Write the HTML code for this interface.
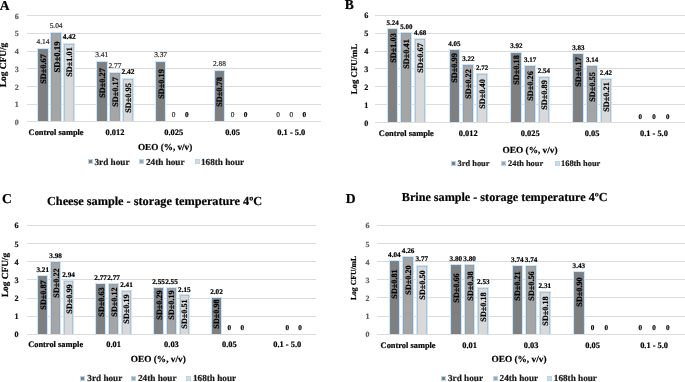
<!DOCTYPE html>
<html><head><meta charset="utf-8"><style>
html,body{margin:0;padding:0;background:#fff;}
body{width:685px;height:382px;position:relative;overflow:hidden;font-family:"Liberation Serif", serif;}
#w{position:absolute;left:0;top:0;width:685px;height:382px;}
.t{position:absolute;white-space:nowrap;line-height:1;filter:grayscale(1);text-rendering:geometricPrecision;-webkit-text-stroke:0.2px currentColor;}
.r{position:absolute;}
</style></head><body><div id="w">
<div class="r" style="left:26.70px;top:121.40px;width:294.00px;height:1.00px;background:#dcdcdc"></div>
<div class="r" style="left:26.70px;top:103.70px;width:294.00px;height:1.00px;background:#dcdcdc"></div>
<div class="r" style="left:26.70px;top:86.00px;width:294.00px;height:1.00px;background:#dcdcdc"></div>
<div class="r" style="left:26.70px;top:68.30px;width:294.00px;height:1.00px;background:#dcdcdc"></div>
<div class="r" style="left:26.70px;top:50.60px;width:294.00px;height:1.00px;background:#dcdcdc"></div>
<div class="r" style="left:26.70px;top:32.90px;width:294.00px;height:1.00px;background:#dcdcdc"></div>
<div class="r" style="left:26.70px;top:15.20px;width:294.00px;height:1.00px;background:#dcdcdc"></div>
<div class="t" style="left:16.80px;top:122.90px;font-size:8.0px;font-weight:bold;color:#606060;transform:translate(-50%,-50%);">0</div>
<div class="t" style="left:16.80px;top:105.20px;font-size:8.0px;font-weight:bold;color:#606060;transform:translate(-50%,-50%);">1</div>
<div class="t" style="left:16.80px;top:87.50px;font-size:8.0px;font-weight:bold;color:#606060;transform:translate(-50%,-50%);">2</div>
<div class="t" style="left:16.80px;top:69.80px;font-size:8.0px;font-weight:bold;color:#606060;transform:translate(-50%,-50%);">3</div>
<div class="t" style="left:16.80px;top:52.10px;font-size:8.0px;font-weight:bold;color:#606060;transform:translate(-50%,-50%);">4</div>
<div class="t" style="left:16.80px;top:34.40px;font-size:8.0px;font-weight:bold;color:#606060;transform:translate(-50%,-50%);">5</div>
<div class="t" style="left:16.80px;top:16.70px;font-size:8.0px;font-weight:bold;color:#606060;transform:translate(-50%,-50%);">6</div>
<div class="r" style="left:37.10px;top:47.62px;width:9.80px;height:73.28px;background:#7f7f7f;border:1px solid #cfe5f3;border-bottom:0;box-shadow:inset 1px 1px 0 rgba(91,155,213,0.35), inset -1px 0 0 rgba(91,155,213,0.35)"></div>
<div class="t" style="left:43.00px;top:41.72px;font-size:7.4px;font-weight:normal;color:#2a2a2a;transform:translate(-50%,-50%);">4.14</div>
<div class="t" style="left:44.00px;top:68.50px;font-size:8.25px;font-weight:bold;color:#000;transform:translate(-50%,-50%) rotate(-90deg);">SD&plusmn;0.67</div>
<div class="r" style="left:50.20px;top:31.69px;width:9.80px;height:89.21px;background:#a5a5a5;border:1px solid #cfe5f3;border-bottom:0;box-shadow:inset 1px 1px 0 rgba(91,155,213,0.35), inset -1px 0 0 rgba(91,155,213,0.35)"></div>
<div class="t" style="left:56.10px;top:25.79px;font-size:7.4px;font-weight:normal;color:#2a2a2a;transform:translate(-50%,-50%);">5.04</div>
<div class="t" style="left:57.10px;top:56.80px;font-size:8.7px;font-weight:bold;color:#000;transform:translate(-50%,-50%) rotate(-90deg);">SD&plusmn;0.19</div>
<div class="r" style="left:63.30px;top:42.67px;width:9.80px;height:78.23px;background:#d9d9d9;border:1px solid #cfe5f3;border-bottom:0;box-shadow:inset 1px 1px 0 rgba(91,155,213,0.35), inset -1px 0 0 rgba(91,155,213,0.35)"></div>
<div class="t" style="left:69.20px;top:37.07px;font-size:7.4px;font-weight:bold;color:#000;transform:translate(-50%,-50%);">4.42</div>
<div class="t" style="left:70.20px;top:62.45px;font-size:8.25px;font-weight:bold;color:#000;transform:translate(-50%,-50%) rotate(-90deg);">SD&plusmn;1.01</div>
<div class="t" style="left:56.10px;top:132.50px;font-size:8.4px;font-weight:bold;color:#000;transform:translate(-50%,-50%);">Control sample</div>
<div class="r" style="left:95.90px;top:60.54px;width:9.80px;height:60.36px;background:#7f7f7f;border:1px solid #cfe5f3;border-bottom:0;box-shadow:inset 1px 1px 0 rgba(91,155,213,0.35), inset -1px 0 0 rgba(91,155,213,0.35)"></div>
<div class="t" style="left:101.80px;top:54.64px;font-size:7.4px;font-weight:normal;color:#2a2a2a;transform:translate(-50%,-50%);">3.41</div>
<div class="t" style="left:102.80px;top:83.45px;font-size:8.25px;font-weight:bold;color:#000;transform:translate(-50%,-50%) rotate(-90deg);">SD&plusmn;0.27</div>
<div class="r" style="left:109.00px;top:71.87px;width:9.80px;height:49.03px;background:#a5a5a5;border:1px solid #cfe5f3;border-bottom:0;box-shadow:inset 1px 1px 0 rgba(91,155,213,0.35), inset -1px 0 0 rgba(91,155,213,0.35)"></div>
<div class="t" style="left:114.90px;top:65.97px;font-size:7.4px;font-weight:normal;color:#2a2a2a;transform:translate(-50%,-50%);">2.77</div>
<div class="t" style="left:115.90px;top:91.60px;font-size:8.25px;font-weight:bold;color:#000;transform:translate(-50%,-50%) rotate(-90deg);">SD&plusmn;0.17</div>
<div class="r" style="left:122.10px;top:78.07px;width:9.80px;height:42.83px;background:#d9d9d9;border:1px solid #cfe5f3;border-bottom:0;box-shadow:inset 1px 1px 0 rgba(91,155,213,0.35), inset -1px 0 0 rgba(91,155,213,0.35)"></div>
<div class="t" style="left:128.00px;top:72.47px;font-size:7.4px;font-weight:bold;color:#000;transform:translate(-50%,-50%);">2.42</div>
<div class="t" style="left:129.00px;top:97.70px;font-size:8.25px;font-weight:bold;color:#000;transform:translate(-50%,-50%) rotate(-90deg);">SD&plusmn;0.95</div>
<div class="t" style="left:114.90px;top:132.50px;font-size:8.4px;font-weight:bold;color:#000;transform:translate(-50%,-50%);">0.012</div>
<div class="r" style="left:154.70px;top:61.25px;width:9.80px;height:59.65px;background:#7f7f7f;border:1px solid #cfe5f3;border-bottom:0;box-shadow:inset 1px 1px 0 rgba(91,155,213,0.35), inset -1px 0 0 rgba(91,155,213,0.35)"></div>
<div class="t" style="left:160.60px;top:55.35px;font-size:7.4px;font-weight:normal;color:#2a2a2a;transform:translate(-50%,-50%);">3.37</div>
<div class="t" style="left:161.60px;top:83.95px;font-size:8.25px;font-weight:bold;color:#000;transform:translate(-50%,-50%) rotate(-90deg);">SD&plusmn;0.19</div>
<div class="t" style="left:173.70px;top:115.10px;font-size:7.4px;font-weight:normal;color:#2a2a2a;transform:translate(-50%,-50%);">0</div>
<div class="t" style="left:186.80px;top:115.10px;font-size:7.4px;font-weight:bold;color:#000;transform:translate(-50%,-50%);">0</div>
<div class="t" style="left:173.70px;top:132.50px;font-size:8.4px;font-weight:bold;color:#000;transform:translate(-50%,-50%);">0.025</div>
<div class="r" style="left:213.50px;top:69.92px;width:9.80px;height:50.98px;background:#7f7f7f;border:1px solid #cfe5f3;border-bottom:0;box-shadow:inset 1px 1px 0 rgba(91,155,213,0.35), inset -1px 0 0 rgba(91,155,213,0.35)"></div>
<div class="t" style="left:219.40px;top:64.02px;font-size:7.4px;font-weight:normal;color:#2a2a2a;transform:translate(-50%,-50%);">2.88</div>
<div class="t" style="left:220.40px;top:91.55px;font-size:8.25px;font-weight:bold;color:#000;transform:translate(-50%,-50%) rotate(-90deg);">SD&plusmn;0.78</div>
<div class="t" style="left:232.50px;top:115.10px;font-size:7.4px;font-weight:normal;color:#2a2a2a;transform:translate(-50%,-50%);">0</div>
<div class="t" style="left:245.60px;top:115.10px;font-size:7.4px;font-weight:bold;color:#000;transform:translate(-50%,-50%);">0</div>
<div class="t" style="left:232.50px;top:132.50px;font-size:8.4px;font-weight:bold;color:#000;transform:translate(-50%,-50%);">0.05</div>
<div class="t" style="left:278.20px;top:115.10px;font-size:7.4px;font-weight:normal;color:#2a2a2a;transform:translate(-50%,-50%);">0</div>
<div class="t" style="left:291.30px;top:115.10px;font-size:7.4px;font-weight:normal;color:#2a2a2a;transform:translate(-50%,-50%);">0</div>
<div class="t" style="left:304.40px;top:115.10px;font-size:7.4px;font-weight:bold;color:#000;transform:translate(-50%,-50%);">0</div>
<div class="t" style="left:291.30px;top:132.50px;font-size:8.4px;font-weight:bold;color:#000;transform:translate(-50%,-50%);">0.1 - 5.0</div>
<div class="r" style="left:26.70px;top:121.40px;width:294.00px;height:1.00px;background:#dcdcdc"></div>
<div class="t" style="left:5.30px;top:64.50px;font-size:9.4px;font-weight:bold;color:#000;transform:translate(-50%,-50%) rotate(-90deg);">Log CFU/g</div>
<div class="t" style="left:165.10px;top:147.80px;font-size:9.2px;font-weight:bold;color:#000;transform:translate(-50%,-50%);">OEO (%, v/v)</div>
<div class="r" style="left:87.80px;top:159.05px;width:4.90px;height:4.90px;background:#7f7f7f;border:1px solid #b3d6ee;box-sizing:border-box"></div>
<div class="t" style="left:94.50px;top:162.50px;font-size:9.2px;font-weight:bold;color:#1a1a1a;transform:translate(0,-50%);">3rd hour</div>
<div class="r" style="left:139.30px;top:159.05px;width:4.90px;height:4.90px;background:#a5a5a5;border:1px solid #b3d6ee;box-sizing:border-box"></div>
<div class="t" style="left:146.00px;top:162.50px;font-size:9.2px;font-weight:bold;color:#1a1a1a;transform:translate(0,-50%);">24th hour</div>
<div class="r" style="left:194.80px;top:159.05px;width:4.90px;height:4.90px;background:#d9d9d9;border:1px solid #b3d6ee;box-sizing:border-box"></div>
<div class="t" style="left:201.00px;top:162.50px;font-size:9.2px;font-weight:bold;color:#1a1a1a;transform:translate(0,-50%);">168th hour</div>
<div class="r" style="left:375.40px;top:122.10px;width:309.60px;height:1.00px;background:#dcdcdc"></div>
<div class="r" style="left:375.40px;top:104.23px;width:309.60px;height:1.00px;background:#dcdcdc"></div>
<div class="r" style="left:375.40px;top:86.36px;width:309.60px;height:1.00px;background:#dcdcdc"></div>
<div class="r" style="left:375.40px;top:68.49px;width:309.60px;height:1.00px;background:#dcdcdc"></div>
<div class="r" style="left:375.40px;top:50.62px;width:309.60px;height:1.00px;background:#dcdcdc"></div>
<div class="r" style="left:375.40px;top:32.75px;width:309.60px;height:1.00px;background:#dcdcdc"></div>
<div class="r" style="left:375.40px;top:14.88px;width:309.60px;height:1.00px;background:#dcdcdc"></div>
<div class="t" style="left:366.20px;top:123.60px;font-size:8.2px;font-weight:bold;color:#111;transform:translate(-50%,-50%);">0</div>
<div class="t" style="left:366.20px;top:105.73px;font-size:8.2px;font-weight:bold;color:#111;transform:translate(-50%,-50%);">1</div>
<div class="t" style="left:366.20px;top:87.86px;font-size:8.2px;font-weight:bold;color:#111;transform:translate(-50%,-50%);">2</div>
<div class="t" style="left:366.20px;top:69.99px;font-size:8.2px;font-weight:bold;color:#111;transform:translate(-50%,-50%);">3</div>
<div class="t" style="left:366.20px;top:52.12px;font-size:8.2px;font-weight:bold;color:#111;transform:translate(-50%,-50%);">4</div>
<div class="t" style="left:366.20px;top:34.25px;font-size:8.2px;font-weight:bold;color:#111;transform:translate(-50%,-50%);">5</div>
<div class="t" style="left:366.20px;top:16.38px;font-size:8.2px;font-weight:bold;color:#111;transform:translate(-50%,-50%);">6</div>
<div class="r" style="left:386.65px;top:27.96px;width:9.80px;height:93.64px;background:#7f7f7f;border:1px solid #cfe5f3;border-bottom:0;box-shadow:inset 1px 1px 0 rgba(91,155,213,0.35), inset -1px 0 0 rgba(91,155,213,0.35)"></div>
<div class="t" style="left:392.55px;top:22.66px;font-size:7.0px;font-weight:bold;color:#000;transform:translate(-50%,-50%);">5.24</div>
<div class="t" style="left:393.55px;top:48.15px;font-size:8.25px;font-weight:bold;color:#000;transform:translate(-50%,-50%) rotate(-90deg);">SD&plusmn;1.03</div>
<div class="r" style="left:400.45px;top:32.25px;width:9.80px;height:89.35px;background:#a5a5a5;border:1px solid #cfe5f3;border-bottom:0;box-shadow:inset 1px 1px 0 rgba(91,155,213,0.35), inset -1px 0 0 rgba(91,155,213,0.35)"></div>
<div class="t" style="left:406.35px;top:26.95px;font-size:7.0px;font-weight:bold;color:#000;transform:translate(-50%,-50%);">5.00</div>
<div class="t" style="left:407.35px;top:54.15px;font-size:8.25px;font-weight:bold;color:#000;transform:translate(-50%,-50%) rotate(-90deg);">SD&plusmn;0.41</div>
<div class="r" style="left:414.25px;top:37.97px;width:9.80px;height:83.63px;background:#d9d9d9;border:1px solid #cfe5f3;border-bottom:0;box-shadow:inset 1px 1px 0 rgba(91,155,213,0.35), inset -1px 0 0 rgba(91,155,213,0.35)"></div>
<div class="t" style="left:420.15px;top:32.67px;font-size:7.0px;font-weight:bold;color:#000;transform:translate(-50%,-50%);">4.68</div>
<div class="t" style="left:421.15px;top:58.45px;font-size:8.25px;font-weight:bold;color:#000;transform:translate(-50%,-50%) rotate(-90deg);">SD&plusmn;0.67</div>
<div class="t" style="left:406.35px;top:134.00px;font-size:8.4px;font-weight:bold;color:#000;transform:translate(-50%,-50%);">Control sample</div>
<div class="r" style="left:448.55px;top:49.23px;width:9.80px;height:72.37px;background:#7f7f7f;border:1px solid #cfe5f3;border-bottom:0;box-shadow:inset 1px 1px 0 rgba(91,155,213,0.35), inset -1px 0 0 rgba(91,155,213,0.35)"></div>
<div class="t" style="left:454.45px;top:43.93px;font-size:7.0px;font-weight:bold;color:#000;transform:translate(-50%,-50%);">4.05</div>
<div class="t" style="left:455.45px;top:67.90px;font-size:8.25px;font-weight:bold;color:#000;transform:translate(-50%,-50%) rotate(-90deg);">SD&plusmn;0.99</div>
<div class="r" style="left:462.35px;top:64.06px;width:9.80px;height:57.54px;background:#a5a5a5;border:1px solid #cfe5f3;border-bottom:0;box-shadow:inset 1px 1px 0 rgba(91,155,213,0.35), inset -1px 0 0 rgba(91,155,213,0.35)"></div>
<div class="t" style="left:468.25px;top:58.76px;font-size:7.0px;font-weight:bold;color:#000;transform:translate(-50%,-50%);">3.22</div>
<div class="t" style="left:469.25px;top:83.85px;font-size:8.25px;font-weight:bold;color:#000;transform:translate(-50%,-50%) rotate(-90deg);">SD&plusmn;0.22</div>
<div class="r" style="left:476.15px;top:72.99px;width:9.80px;height:48.61px;background:#d9d9d9;border:1px solid #cfe5f3;border-bottom:0;box-shadow:inset 1px 1px 0 rgba(91,155,213,0.35), inset -1px 0 0 rgba(91,155,213,0.35)"></div>
<div class="t" style="left:482.05px;top:67.69px;font-size:7.0px;font-weight:bold;color:#000;transform:translate(-50%,-50%);">2.72</div>
<div class="t" style="left:483.05px;top:93.50px;font-size:8.25px;font-weight:bold;color:#000;transform:translate(-50%,-50%) rotate(-90deg);">SD&plusmn;0.40</div>
<div class="t" style="left:468.25px;top:134.00px;font-size:8.4px;font-weight:bold;color:#000;transform:translate(-50%,-50%);">0.012</div>
<div class="r" style="left:510.45px;top:51.55px;width:9.80px;height:70.05px;background:#7f7f7f;border:1px solid #cfe5f3;border-bottom:0;box-shadow:inset 1px 1px 0 rgba(91,155,213,0.35), inset -1px 0 0 rgba(91,155,213,0.35)"></div>
<div class="t" style="left:516.35px;top:46.25px;font-size:7.0px;font-weight:bold;color:#000;transform:translate(-50%,-50%);">3.92</div>
<div class="t" style="left:517.35px;top:70.10px;font-size:8.25px;font-weight:bold;color:#000;transform:translate(-50%,-50%) rotate(-90deg);">SD&plusmn;0.18</div>
<div class="r" style="left:524.25px;top:64.95px;width:9.80px;height:56.65px;background:#a5a5a5;border:1px solid #cfe5f3;border-bottom:0;box-shadow:inset 1px 1px 0 rgba(91,155,213,0.35), inset -1px 0 0 rgba(91,155,213,0.35)"></div>
<div class="t" style="left:530.15px;top:59.65px;font-size:7.0px;font-weight:bold;color:#000;transform:translate(-50%,-50%);">3.17</div>
<div class="t" style="left:531.15px;top:86.35px;font-size:8.25px;font-weight:bold;color:#000;transform:translate(-50%,-50%) rotate(-90deg);">SD&plusmn;0.26</div>
<div class="r" style="left:538.05px;top:76.21px;width:9.80px;height:45.39px;background:#d9d9d9;border:1px solid #cfe5f3;border-bottom:0;box-shadow:inset 1px 1px 0 rgba(91,155,213,0.35), inset -1px 0 0 rgba(91,155,213,0.35)"></div>
<div class="t" style="left:543.95px;top:70.91px;font-size:7.0px;font-weight:bold;color:#000;transform:translate(-50%,-50%);">2.54</div>
<div class="t" style="left:544.95px;top:94.60px;font-size:8.25px;font-weight:bold;color:#000;transform:translate(-50%,-50%) rotate(-90deg);">SD&plusmn;0.89</div>
<div class="t" style="left:530.15px;top:134.00px;font-size:8.4px;font-weight:bold;color:#000;transform:translate(-50%,-50%);">0.025</div>
<div class="r" style="left:572.35px;top:53.16px;width:9.80px;height:68.44px;background:#7f7f7f;border:1px solid #cfe5f3;border-bottom:0;box-shadow:inset 1px 1px 0 rgba(91,155,213,0.35), inset -1px 0 0 rgba(91,155,213,0.35)"></div>
<div class="t" style="left:578.25px;top:47.86px;font-size:7.0px;font-weight:bold;color:#000;transform:translate(-50%,-50%);">3.83</div>
<div class="t" style="left:579.25px;top:72.45px;font-size:8.25px;font-weight:bold;color:#000;transform:translate(-50%,-50%) rotate(-90deg);">SD&plusmn;0.17</div>
<div class="r" style="left:586.15px;top:65.49px;width:9.80px;height:56.11px;background:#a5a5a5;border:1px solid #cfe5f3;border-bottom:0;box-shadow:inset 1px 1px 0 rgba(91,155,213,0.35), inset -1px 0 0 rgba(91,155,213,0.35)"></div>
<div class="t" style="left:592.05px;top:60.19px;font-size:7.0px;font-weight:bold;color:#000;transform:translate(-50%,-50%);">3.14</div>
<div class="t" style="left:593.05px;top:86.65px;font-size:8.25px;font-weight:bold;color:#000;transform:translate(-50%,-50%) rotate(-90deg);">SD&plusmn;0.55</div>
<div class="r" style="left:599.95px;top:78.35px;width:9.80px;height:43.25px;background:#d9d9d9;border:1px solid #cfe5f3;border-bottom:0;box-shadow:inset 1px 1px 0 rgba(91,155,213,0.35), inset -1px 0 0 rgba(91,155,213,0.35)"></div>
<div class="t" style="left:605.85px;top:73.05px;font-size:7.0px;font-weight:bold;color:#000;transform:translate(-50%,-50%);">2.42</div>
<div class="t" style="left:606.85px;top:96.75px;font-size:8.25px;font-weight:bold;color:#000;transform:translate(-50%,-50%) rotate(-90deg);">SD&plusmn;0.21</div>
<div class="t" style="left:592.05px;top:134.00px;font-size:8.4px;font-weight:bold;color:#000;transform:translate(-50%,-50%);">0.05</div>
<div class="t" style="left:640.15px;top:116.60px;font-size:7.0px;font-weight:bold;color:#000;transform:translate(-50%,-50%);">0</div>
<div class="t" style="left:653.95px;top:116.60px;font-size:7.0px;font-weight:bold;color:#000;transform:translate(-50%,-50%);">0</div>
<div class="t" style="left:667.75px;top:116.60px;font-size:7.0px;font-weight:bold;color:#000;transform:translate(-50%,-50%);">0</div>
<div class="t" style="left:653.95px;top:134.00px;font-size:8.4px;font-weight:bold;color:#000;transform:translate(-50%,-50%);">0.1 - 5.0</div>
<div class="r" style="left:375.40px;top:122.10px;width:309.60px;height:1.00px;background:#dcdcdc"></div>
<div class="t" style="left:353.50px;top:68.80px;font-size:8.8px;font-weight:bold;color:#000;transform:translate(-50%,-50%) rotate(-90deg);">Log CFU/mL</div>
<div class="t" style="left:530.10px;top:151.60px;font-size:9.3px;font-weight:bold;color:#000;transform:translate(-50%,-50%);">OEO (%, v/v)</div>
<div class="r" style="left:451.20px;top:161.00px;width:4.80px;height:4.80px;background:#7f7f7f;border:1px solid #b3d6ee;box-sizing:border-box"></div>
<div class="t" style="left:457.60px;top:164.40px;font-size:8.4px;font-weight:bold;color:#1a1a1a;transform:translate(0,-50%);">3rd hour</div>
<div class="r" style="left:501.20px;top:161.00px;width:4.80px;height:4.80px;background:#a5a5a5;border:1px solid #b3d6ee;box-sizing:border-box"></div>
<div class="t" style="left:508.00px;top:164.40px;font-size:8.4px;font-weight:bold;color:#1a1a1a;transform:translate(0,-50%);">24th hour</div>
<div class="r" style="left:555.00px;top:161.00px;width:4.80px;height:4.80px;background:#d9d9d9;border:1px solid #b3d6ee;box-sizing:border-box"></div>
<div class="t" style="left:561.00px;top:164.40px;font-size:8.4px;font-weight:bold;color:#1a1a1a;transform:translate(0,-50%);">168th hour</div>
<div class="r" style="left:26.70px;top:333.85px;width:289.50px;height:1.00px;background:#dcdcdc"></div>
<div class="r" style="left:26.70px;top:315.69px;width:289.50px;height:1.00px;background:#dcdcdc"></div>
<div class="r" style="left:26.70px;top:297.53px;width:289.50px;height:1.00px;background:#dcdcdc"></div>
<div class="r" style="left:26.70px;top:279.37px;width:289.50px;height:1.00px;background:#dcdcdc"></div>
<div class="r" style="left:26.70px;top:261.21px;width:289.50px;height:1.00px;background:#dcdcdc"></div>
<div class="r" style="left:26.70px;top:243.05px;width:289.50px;height:1.00px;background:#dcdcdc"></div>
<div class="r" style="left:26.70px;top:224.89px;width:289.50px;height:1.00px;background:#dcdcdc"></div>
<div class="t" style="left:16.60px;top:335.35px;font-size:8.2px;font-weight:bold;color:#111;transform:translate(-50%,-50%);">0</div>
<div class="t" style="left:16.60px;top:317.19px;font-size:8.2px;font-weight:bold;color:#111;transform:translate(-50%,-50%);">1</div>
<div class="t" style="left:16.60px;top:299.03px;font-size:8.2px;font-weight:bold;color:#111;transform:translate(-50%,-50%);">2</div>
<div class="t" style="left:16.60px;top:280.87px;font-size:8.2px;font-weight:bold;color:#111;transform:translate(-50%,-50%);">3</div>
<div class="t" style="left:16.60px;top:262.71px;font-size:8.2px;font-weight:bold;color:#111;transform:translate(-50%,-50%);">4</div>
<div class="t" style="left:16.60px;top:244.55px;font-size:8.2px;font-weight:bold;color:#111;transform:translate(-50%,-50%);">5</div>
<div class="t" style="left:16.60px;top:226.39px;font-size:8.2px;font-weight:bold;color:#111;transform:translate(-50%,-50%);">6</div>
<div class="r" style="left:37.10px;top:275.06px;width:9.30px;height:58.29px;background:#7f7f7f;border:1px solid #cfe5f3;border-bottom:0;box-shadow:inset 1px 1px 0 rgba(91,155,213,0.35), inset -1px 0 0 rgba(91,155,213,0.35)"></div>
<div class="t" style="left:42.75px;top:271.26px;font-size:7.2px;font-weight:bold;color:#000;transform:translate(-50%,-50%);">3.21</div>
<div class="t" style="left:43.75px;top:295.35px;font-size:8.2px;font-weight:bold;color:#000;transform:translate(-50%,-50%) rotate(-90deg);">SD&plusmn;0.87</div>
<div class="r" style="left:50.00px;top:261.07px;width:9.30px;height:72.28px;background:#a5a5a5;border:1px solid #cfe5f3;border-bottom:0;box-shadow:inset 1px 1px 0 rgba(91,155,213,0.35), inset -1px 0 0 rgba(91,155,213,0.35)"></div>
<div class="t" style="left:55.65px;top:257.27px;font-size:7.2px;font-weight:bold;color:#000;transform:translate(-50%,-50%);">3.98</div>
<div class="t" style="left:56.65px;top:282.50px;font-size:8.2px;font-weight:bold;color:#000;transform:translate(-50%,-50%) rotate(-90deg);">SD&plusmn;0.22</div>
<div class="r" style="left:62.90px;top:279.96px;width:9.30px;height:53.39px;background:#d9d9d9;border:1px solid #cfe5f3;border-bottom:0;box-shadow:inset 1px 1px 0 rgba(91,155,213,0.35), inset -1px 0 0 rgba(91,155,213,0.35)"></div>
<div class="t" style="left:68.55px;top:276.16px;font-size:7.2px;font-weight:bold;color:#000;transform:translate(-50%,-50%);">2.94</div>
<div class="t" style="left:69.55px;top:298.75px;font-size:8.2px;font-weight:bold;color:#000;transform:translate(-50%,-50%) rotate(-90deg);">SD&plusmn;0.99</div>
<div class="t" style="left:55.65px;top:345.45px;font-size:8.4px;font-weight:bold;color:#000;transform:translate(-50%,-50%);">Control sample</div>
<div class="r" style="left:95.00px;top:283.05px;width:9.30px;height:50.30px;background:#7f7f7f;border:1px solid #cfe5f3;border-bottom:0;box-shadow:inset 1px 1px 0 rgba(91,155,213,0.35), inset -1px 0 0 rgba(91,155,213,0.35)"></div>
<div class="t" style="left:100.65px;top:279.25px;font-size:7.2px;font-weight:bold;color:#000;transform:translate(-50%,-50%);">2.77</div>
<div class="t" style="left:101.65px;top:301.80px;font-size:8.2px;font-weight:bold;color:#000;transform:translate(-50%,-50%) rotate(-90deg);">SD&plusmn;0.63</div>
<div class="r" style="left:107.90px;top:283.05px;width:9.30px;height:50.30px;background:#a5a5a5;border:1px solid #cfe5f3;border-bottom:0;box-shadow:inset 1px 1px 0 rgba(91,155,213,0.35), inset -1px 0 0 rgba(91,155,213,0.35)"></div>
<div class="t" style="left:113.55px;top:279.25px;font-size:7.2px;font-weight:bold;color:#000;transform:translate(-50%,-50%);">2.77</div>
<div class="t" style="left:114.55px;top:301.50px;font-size:8.2px;font-weight:bold;color:#000;transform:translate(-50%,-50%) rotate(-90deg);">SD&plusmn;0.12</div>
<div class="r" style="left:120.80px;top:289.58px;width:9.30px;height:43.77px;background:#d9d9d9;border:1px solid #cfe5f3;border-bottom:0;box-shadow:inset 1px 1px 0 rgba(91,155,213,0.35), inset -1px 0 0 rgba(91,155,213,0.35)"></div>
<div class="t" style="left:126.45px;top:285.78px;font-size:7.2px;font-weight:bold;color:#000;transform:translate(-50%,-50%);">2.41</div>
<div class="t" style="left:127.45px;top:308.65px;font-size:8.2px;font-weight:bold;color:#000;transform:translate(-50%,-50%) rotate(-90deg);">SD&plusmn;0.19</div>
<div class="t" style="left:113.55px;top:345.45px;font-size:8.4px;font-weight:bold;color:#000;transform:translate(-50%,-50%);">0.01</div>
<div class="r" style="left:152.90px;top:287.04px;width:9.30px;height:46.31px;background:#7f7f7f;border:1px solid #cfe5f3;border-bottom:0;box-shadow:inset 1px 1px 0 rgba(91,155,213,0.35), inset -1px 0 0 rgba(91,155,213,0.35)"></div>
<div class="t" style="left:158.55px;top:283.24px;font-size:7.2px;font-weight:bold;color:#000;transform:translate(-50%,-50%);">2.55</div>
<div class="t" style="left:159.55px;top:305.45px;font-size:8.2px;font-weight:bold;color:#000;transform:translate(-50%,-50%) rotate(-90deg);">SD&plusmn;0.29</div>
<div class="r" style="left:165.80px;top:287.04px;width:9.30px;height:46.31px;background:#a5a5a5;border:1px solid #cfe5f3;border-bottom:0;box-shadow:inset 1px 1px 0 rgba(91,155,213,0.35), inset -1px 0 0 rgba(91,155,213,0.35)"></div>
<div class="t" style="left:171.45px;top:283.24px;font-size:7.2px;font-weight:bold;color:#000;transform:translate(-50%,-50%);">2.55</div>
<div class="t" style="left:172.45px;top:304.75px;font-size:8.2px;font-weight:bold;color:#000;transform:translate(-50%,-50%) rotate(-90deg);">SD&plusmn;0.19</div>
<div class="r" style="left:178.70px;top:294.31px;width:9.30px;height:39.04px;background:#d9d9d9;border:1px solid #cfe5f3;border-bottom:0;box-shadow:inset 1px 1px 0 rgba(91,155,213,0.35), inset -1px 0 0 rgba(91,155,213,0.35)"></div>
<div class="t" style="left:184.35px;top:290.51px;font-size:7.2px;font-weight:bold;color:#000;transform:translate(-50%,-50%);">2.15</div>
<div class="t" style="left:185.35px;top:313.70px;font-size:8.2px;font-weight:bold;color:#000;transform:translate(-50%,-50%) rotate(-90deg);">SD&plusmn;0.51</div>
<div class="t" style="left:171.45px;top:345.45px;font-size:8.4px;font-weight:bold;color:#000;transform:translate(-50%,-50%);">0.03</div>
<div class="r" style="left:210.80px;top:296.67px;width:9.30px;height:36.68px;background:#7f7f7f;border:1px solid #cfe5f3;border-bottom:0;box-shadow:inset 1px 1px 0 rgba(91,155,213,0.35), inset -1px 0 0 rgba(91,155,213,0.35)"></div>
<div class="t" style="left:216.45px;top:292.87px;font-size:7.2px;font-weight:bold;color:#000;transform:translate(-50%,-50%);">2.02</div>
<div class="t" style="left:217.45px;top:313.60px;font-size:8.2px;font-weight:bold;color:#000;transform:translate(-50%,-50%) rotate(-90deg);">SD&plusmn;0.98</div>
<div class="t" style="left:229.35px;top:328.80px;font-size:7.2px;font-weight:bold;color:#000;transform:translate(-50%,-50%);">0</div>
<div class="t" style="left:242.25px;top:328.80px;font-size:7.2px;font-weight:bold;color:#000;transform:translate(-50%,-50%);">0</div>
<div class="t" style="left:229.35px;top:345.45px;font-size:8.4px;font-weight:bold;color:#000;transform:translate(-50%,-50%);">0.05</div>
<div class="t" style="left:287.25px;top:328.80px;font-size:7.2px;font-weight:bold;color:#000;transform:translate(-50%,-50%);">0</div>
<div class="t" style="left:300.15px;top:328.80px;font-size:7.2px;font-weight:bold;color:#000;transform:translate(-50%,-50%);">0</div>
<div class="t" style="left:287.25px;top:345.45px;font-size:8.4px;font-weight:bold;color:#000;transform:translate(-50%,-50%);">0.1 - 5.0</div>
<div class="r" style="left:26.70px;top:333.85px;width:289.50px;height:1.00px;background:#dcdcdc"></div>
<div class="t" style="left:7.30px;top:274.60px;font-size:9.3px;font-weight:bold;color:#000;transform:translate(-50%,-50%) rotate(-90deg);">Log CFU/g</div>
<div class="t" style="left:158.30px;top:361.00px;font-size:9.3px;font-weight:bold;color:#000;transform:translate(-50%,-50%);">OEO (%, v/v)</div>
<div class="r" style="left:80.00px;top:375.95px;width:4.90px;height:4.90px;background:#7f7f7f;border:1px solid #b3d6ee;box-sizing:border-box"></div>
<div class="t" style="left:87.30px;top:379.40px;font-size:9.2px;font-weight:bold;color:#1a1a1a;transform:translate(0,-50%);">3rd hour</div>
<div class="r" style="left:131.20px;top:375.95px;width:4.90px;height:4.90px;background:#a5a5a5;border:1px solid #b3d6ee;box-sizing:border-box"></div>
<div class="t" style="left:138.00px;top:379.40px;font-size:9.2px;font-weight:bold;color:#1a1a1a;transform:translate(0,-50%);">24th hour</div>
<div class="r" style="left:185.90px;top:375.95px;width:4.90px;height:4.90px;background:#d9d9d9;border:1px solid #b3d6ee;box-sizing:border-box"></div>
<div class="t" style="left:193.00px;top:379.40px;font-size:9.2px;font-weight:bold;color:#1a1a1a;transform:translate(0,-50%);">168th hour</div>
<div class="r" style="left:377.35px;top:333.70px;width:307.65px;height:1.00px;background:#dcdcdc"></div>
<div class="r" style="left:377.35px;top:315.58px;width:307.65px;height:1.00px;background:#dcdcdc"></div>
<div class="r" style="left:377.35px;top:297.46px;width:307.65px;height:1.00px;background:#dcdcdc"></div>
<div class="r" style="left:377.35px;top:279.34px;width:307.65px;height:1.00px;background:#dcdcdc"></div>
<div class="r" style="left:377.35px;top:261.22px;width:307.65px;height:1.00px;background:#dcdcdc"></div>
<div class="r" style="left:377.35px;top:243.10px;width:307.65px;height:1.00px;background:#dcdcdc"></div>
<div class="r" style="left:377.35px;top:224.98px;width:307.65px;height:1.00px;background:#dcdcdc"></div>
<div class="t" style="left:367.50px;top:335.20px;font-size:8.0px;font-weight:bold;color:#606060;transform:translate(-50%,-50%);">0</div>
<div class="t" style="left:367.50px;top:317.08px;font-size:8.0px;font-weight:bold;color:#606060;transform:translate(-50%,-50%);">1</div>
<div class="t" style="left:367.50px;top:298.96px;font-size:8.0px;font-weight:bold;color:#606060;transform:translate(-50%,-50%);">2</div>
<div class="t" style="left:367.50px;top:280.84px;font-size:8.0px;font-weight:bold;color:#606060;transform:translate(-50%,-50%);">3</div>
<div class="t" style="left:367.50px;top:262.72px;font-size:8.0px;font-weight:bold;color:#606060;transform:translate(-50%,-50%);">4</div>
<div class="t" style="left:367.50px;top:244.60px;font-size:8.0px;font-weight:bold;color:#606060;transform:translate(-50%,-50%);">5</div>
<div class="t" style="left:367.50px;top:226.48px;font-size:8.0px;font-weight:bold;color:#606060;transform:translate(-50%,-50%);">6</div>
<div class="r" style="left:388.53px;top:260.00px;width:9.75px;height:73.20px;background:#7f7f7f;border:1px solid #cfe5f3;border-bottom:0;box-shadow:inset 1px 1px 0 rgba(91,155,213,0.35), inset -1px 0 0 rgba(91,155,213,0.35)"></div>
<div class="t" style="left:394.40px;top:255.60px;font-size:7.2px;font-weight:bold;color:#000;transform:translate(-50%,-50%);">4.04</div>
<div class="t" style="left:395.40px;top:283.55px;font-size:8.2px;font-weight:bold;color:#000;transform:translate(-50%,-50%) rotate(-90deg);">SD&plusmn;0.81</div>
<div class="r" style="left:402.23px;top:256.01px;width:9.75px;height:77.19px;background:#a5a5a5;border:1px solid #cfe5f3;border-bottom:0;box-shadow:inset 1px 1px 0 rgba(91,155,213,0.35), inset -1px 0 0 rgba(91,155,213,0.35)"></div>
<div class="t" style="left:408.10px;top:251.61px;font-size:7.2px;font-weight:bold;color:#000;transform:translate(-50%,-50%);">4.26</div>
<div class="t" style="left:409.10px;top:280.05px;font-size:8.2px;font-weight:bold;color:#000;transform:translate(-50%,-50%) rotate(-90deg);">SD&plusmn;0.20</div>
<div class="r" style="left:415.93px;top:264.89px;width:9.75px;height:68.31px;background:#d9d9d9;border:1px solid #cfe5f3;border-bottom:0;box-shadow:inset 1px 1px 0 rgba(91,155,213,0.35), inset -1px 0 0 rgba(91,155,213,0.35)"></div>
<div class="t" style="left:421.80px;top:260.49px;font-size:7.2px;font-weight:bold;color:#000;transform:translate(-50%,-50%);">3.77</div>
<div class="t" style="left:422.80px;top:284.90px;font-size:8.2px;font-weight:bold;color:#000;transform:translate(-50%,-50%) rotate(-90deg);">SD&plusmn;0.50</div>
<div class="t" style="left:408.10px;top:345.50px;font-size:8.4px;font-weight:bold;color:#000;transform:translate(-50%,-50%);">Control sample</div>
<div class="r" style="left:450.03px;top:264.34px;width:9.75px;height:68.86px;background:#7f7f7f;border:1px solid #cfe5f3;border-bottom:0;box-shadow:inset 1px 1px 0 rgba(91,155,213,0.35), inset -1px 0 0 rgba(91,155,213,0.35)"></div>
<div class="t" style="left:455.90px;top:259.94px;font-size:7.2px;font-weight:bold;color:#000;transform:translate(-50%,-50%);">3.80</div>
<div class="t" style="left:456.90px;top:287.50px;font-size:8.2px;font-weight:bold;color:#000;transform:translate(-50%,-50%) rotate(-90deg);">SD&plusmn;0.66</div>
<div class="r" style="left:463.73px;top:264.34px;width:9.75px;height:68.86px;background:#a5a5a5;border:1px solid #cfe5f3;border-bottom:0;box-shadow:inset 1px 1px 0 rgba(91,155,213,0.35), inset -1px 0 0 rgba(91,155,213,0.35)"></div>
<div class="t" style="left:469.60px;top:259.94px;font-size:7.2px;font-weight:bold;color:#000;transform:translate(-50%,-50%);">3.80</div>
<div class="t" style="left:470.60px;top:286.20px;font-size:8.2px;font-weight:bold;color:#000;transform:translate(-50%,-50%) rotate(-90deg);">SD&plusmn;0.38</div>
<div class="r" style="left:477.43px;top:287.36px;width:9.75px;height:45.84px;background:#d9d9d9;border:1px solid #cfe5f3;border-bottom:0;box-shadow:inset 1px 1px 0 rgba(91,155,213,0.35), inset -1px 0 0 rgba(91,155,213,0.35)"></div>
<div class="t" style="left:483.30px;top:282.96px;font-size:7.2px;font-weight:bold;color:#000;transform:translate(-50%,-50%);">2.53</div>
<div class="t" style="left:484.30px;top:307.15px;font-size:8.2px;font-weight:bold;color:#000;transform:translate(-50%,-50%) rotate(-90deg);">SD&plusmn;0.18</div>
<div class="t" style="left:469.60px;top:345.50px;font-size:8.4px;font-weight:bold;color:#000;transform:translate(-50%,-50%);">0.01</div>
<div class="r" style="left:511.52px;top:265.43px;width:9.75px;height:67.77px;background:#7f7f7f;border:1px solid #cfe5f3;border-bottom:0;box-shadow:inset 1px 1px 0 rgba(91,155,213,0.35), inset -1px 0 0 rgba(91,155,213,0.35)"></div>
<div class="t" style="left:517.40px;top:261.03px;font-size:7.2px;font-weight:bold;color:#000;transform:translate(-50%,-50%);">3.74</div>
<div class="t" style="left:518.40px;top:286.20px;font-size:8.2px;font-weight:bold;color:#000;transform:translate(-50%,-50%) rotate(-90deg);">SD&plusmn;0.21</div>
<div class="r" style="left:525.23px;top:265.43px;width:9.75px;height:67.77px;background:#a5a5a5;border:1px solid #cfe5f3;border-bottom:0;box-shadow:inset 1px 1px 0 rgba(91,155,213,0.35), inset -1px 0 0 rgba(91,155,213,0.35)"></div>
<div class="t" style="left:531.10px;top:261.03px;font-size:7.2px;font-weight:bold;color:#000;transform:translate(-50%,-50%);">3.74</div>
<div class="t" style="left:532.10px;top:285.65px;font-size:8.2px;font-weight:bold;color:#000;transform:translate(-50%,-50%) rotate(-90deg);">SD&plusmn;0.56</div>
<div class="r" style="left:538.93px;top:291.34px;width:9.75px;height:41.86px;background:#d9d9d9;border:1px solid #cfe5f3;border-bottom:0;box-shadow:inset 1px 1px 0 rgba(91,155,213,0.35), inset -1px 0 0 rgba(91,155,213,0.35)"></div>
<div class="t" style="left:544.80px;top:286.94px;font-size:7.2px;font-weight:bold;color:#000;transform:translate(-50%,-50%);">2.31</div>
<div class="t" style="left:545.80px;top:311.00px;font-size:8.2px;font-weight:bold;color:#000;transform:translate(-50%,-50%) rotate(-90deg);">SD&plusmn;0.18</div>
<div class="t" style="left:531.10px;top:345.50px;font-size:8.4px;font-weight:bold;color:#000;transform:translate(-50%,-50%);">0.03</div>
<div class="r" style="left:573.02px;top:271.05px;width:9.75px;height:62.15px;background:#7f7f7f;border:1px solid #cfe5f3;border-bottom:0;box-shadow:inset 1px 1px 0 rgba(91,155,213,0.35), inset -1px 0 0 rgba(91,155,213,0.35)"></div>
<div class="t" style="left:578.90px;top:266.65px;font-size:7.2px;font-weight:bold;color:#000;transform:translate(-50%,-50%);">3.43</div>
<div class="t" style="left:579.90px;top:291.70px;font-size:8.2px;font-weight:bold;color:#000;transform:translate(-50%,-50%) rotate(-90deg);">SD&plusmn;0.90</div>
<div class="t" style="left:592.60px;top:328.80px;font-size:7.2px;font-weight:bold;color:#000;transform:translate(-50%,-50%);">0</div>
<div class="t" style="left:606.30px;top:328.80px;font-size:7.2px;font-weight:bold;color:#000;transform:translate(-50%,-50%);">0</div>
<div class="t" style="left:592.60px;top:345.50px;font-size:8.4px;font-weight:bold;color:#000;transform:translate(-50%,-50%);">0.05</div>
<div class="t" style="left:640.40px;top:328.80px;font-size:7.2px;font-weight:bold;color:#000;transform:translate(-50%,-50%);">0</div>
<div class="t" style="left:654.10px;top:328.80px;font-size:7.2px;font-weight:bold;color:#000;transform:translate(-50%,-50%);">0</div>
<div class="t" style="left:667.80px;top:328.80px;font-size:7.2px;font-weight:bold;color:#000;transform:translate(-50%,-50%);">0</div>
<div class="t" style="left:654.10px;top:345.50px;font-size:8.4px;font-weight:bold;color:#000;transform:translate(-50%,-50%);">0.1 - 5.0</div>
<div class="r" style="left:377.35px;top:333.70px;width:307.65px;height:1.00px;background:#dcdcdc"></div>
<div class="t" style="left:353.80px;top:277.70px;font-size:7.7px;font-weight:bold;color:#000;transform:translate(-50%,-50%) rotate(-90deg);">Log CFU/mL</div>
<div class="t" style="left:519.00px;top:361.20px;font-size:9.3px;font-weight:bold;color:#000;transform:translate(-50%,-50%);">OEO (%, v/v)</div>
<div class="r" style="left:441.20px;top:376.00px;width:4.80px;height:4.80px;background:#7f7f7f;border:1px solid #b3d6ee;box-sizing:border-box"></div>
<div class="t" style="left:448.00px;top:379.40px;font-size:9.2px;font-weight:bold;color:#1a1a1a;transform:translate(0,-50%);">3rd hour</div>
<div class="r" style="left:492.80px;top:376.00px;width:4.80px;height:4.80px;background:#a5a5a5;border:1px solid #b3d6ee;box-sizing:border-box"></div>
<div class="t" style="left:499.60px;top:379.40px;font-size:9.2px;font-weight:bold;color:#1a1a1a;transform:translate(0,-50%);">24th hour</div>
<div class="r" style="left:547.20px;top:376.00px;width:4.80px;height:4.80px;background:#d9d9d9;border:1px solid #b3d6ee;box-sizing:border-box"></div>
<div class="t" style="left:553.80px;top:379.40px;font-size:9.2px;font-weight:bold;color:#1a1a1a;transform:translate(0,-50%);">168th hour</div>
<div class="t" style="left:-0.20px;top:-1.19px;font-size:13.6px;font-weight:bold;">A</div>
<div class="t" style="left:344.80px;top:-2.19px;font-size:13.6px;font-weight:bold;">B</div>
<div class="t" style="left:2.10px;top:191.51px;font-size:13.6px;font-weight:bold;">C</div>
<div class="t" style="left:345.80px;top:192.11px;font-size:13.6px;font-weight:bold;">D</div>
<div class="t" style="left:47.00px;top:195.14px;font-size:12.25px;font-weight:bold;">Cheese sample - storage temperature 4&ordm;C</div>
<div class="t" style="left:401.80px;top:190.92px;font-size:12.15px;font-weight:bold;">Brine sample - storage temperature 4&ordm;C</div>
</div></body></html>
